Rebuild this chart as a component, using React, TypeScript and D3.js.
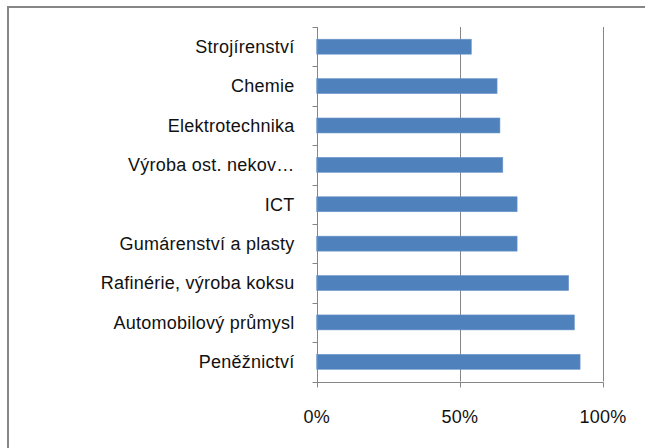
import React, { useEffect, useRef } from 'react';
import * as d3 from 'd3';

// Data
const categories = [
  'Strojírenství',
  'Chemie',
  'Elektrotechnika',
  'Výroba ost. nekov…',
  'ICT',
  'Gumárenství a plasty',
  'Rafinérie, výroba koksu',
  'Automobilový průmysl',
  'Peněžnictví',
];
const values = [0.54, 0.63, 0.64, 0.65, 0.70, 0.70, 0.88, 0.90, 0.92];
const xTicks = [0, 0.5, 1];

export default function App() {
  const ref = useRef<SVGSVGElement>(null);

  useEffect(() => {
    const svg = d3.select(ref.current);
    svg.selectAll('*').remove();

    const width = 645;
    const height = 448;
    const left = 316.7;
    const right = 603;
    const top = 27;
    const bottom = 381.5;
    const grey = '#868686';
    const font = '"Liberation Sans", Arial, sans-serif';

    svg.attr('width', width).attr('height', height);

    // Outer frame (runs off the right and bottom edges)
    svg.append('rect')
      .attr('x', 8).attr('y', 7)
      .attr('width', 700).attr('height', 500)
      .attr('fill', 'white')
      .attr('stroke', grey)
      .attr('stroke-width', 2);

    const x = d3.scaleLinear().domain([0, 1]).range([left, right]);
    const y = d3.scaleBand<string>()
      .domain(categories)
      .range([top, bottom])
      .paddingInner(0.62)
      .paddingOuter(0.31);

    // Gridlines
    svg.append('g')
      .selectAll('line')
      .data(xTicks.filter(d => d > 0))
      .enter().append('line')
      .attr('x1', d => Math.round(x(d)) + 0.5)
      .attr('x2', d => Math.round(x(d)) + 0.5)
      .attr('y1', top)
      .attr('y2', bottom)
      .attr('stroke', grey)
      .attr('stroke-width', 1);

    // Bars
    svg.append('g')
      .selectAll('rect')
      .data(categories)
      .enter().append('rect')
      .attr('x', x(0))
      .attr('y', d => y(d)!)
      .attr('width', (d, i) => x(values[i]) - x(0))
      .attr('height', y.bandwidth())
      .attr('fill', '#4f81bd')
      .attr('stroke', '#6c97cc')
      .attr('stroke-width', 0.6);

    // Y axis
    const yAxis = svg.append('g')
      .attr('transform', `translate(${Math.round(left) + 0.5},0)`);
    yAxis.append('line')
      .attr('y1', top).attr('y2', bottom + 0.5)
      .attr('stroke', grey);
    const step = y.step();
    yAxis.selectAll('.tick')
      .data(d3.range(categories.length + 1))
      .enter().append('line')
      .attr('x1', -5).attr('x2', 0)
      .attr('y1', i => Math.round(top + i * step) + 0.5)
      .attr('y2', i => Math.round(top + i * step) + 0.5)
      .attr('stroke', grey);
    yAxis.selectAll('text')
      .data(categories)
      .enter().append('text')
      .attr('x', -23)
      .attr('y', d => y(d)! + y.bandwidth() / 2)
      .attr('dy', '0.35em')
      .attr('text-anchor', 'end')
      .style('font-family', font)
      .style('font-size', '18px')
      .style('letter-spacing', '0.25px')
      .style('fill', '#111')
      .text(d => d);

    // X axis
    const xAxis = svg.append('g')
      .attr('transform', `translate(0,${Math.round(bottom) + 0.5})`);
    xAxis.append('line')
      .attr('x1', left).attr('x2', right + 0.5)
      .attr('stroke', grey);
    xAxis.selectAll('.tick')
      .data(xTicks)
      .enter().append('line')
      .attr('x1', d => Math.round(x(d)) + 0.5)
      .attr('x2', d => Math.round(x(d)) + 0.5)
      .attr('y1', 0).attr('y2', 5)
      .attr('stroke', grey);
    xAxis.selectAll('text')
      .data(xTicks)
      .enter().append('text')
      .attr('x', d => x(d))
      .attr('y', 34)
      .attr('dy', '0.35em')
      .attr('text-anchor', 'middle')
      .style('font-family', font)
      .style('font-size', '18px')
      .style('letter-spacing', '0.25px')
      .style('fill', '#111')
      .text(d3.format('.0%'));
  }, []);

  return (
    <svg ref={ref} style={{ position: 'absolute', left: 0, top: 0, display: 'block' }}></svg>
  );
}
